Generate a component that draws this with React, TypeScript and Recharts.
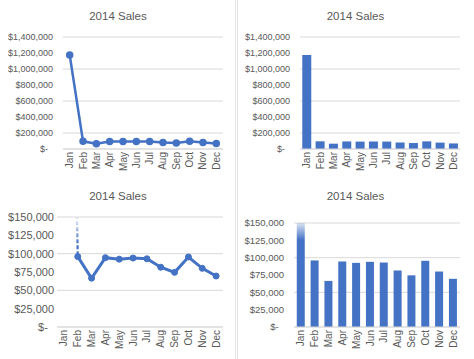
import { LineChart, Line, BarChart, Bar, Cell, XAxis, YAxis, CartesianGrid } from "recharts";

const months = ["Jan", "Feb", "Mar", "Apr", "May", "Jun", "Jul", "Aug", "Sep", "Oct", "Nov", "Dec"];
const sales = [1175000, 96000, 66500, 94500, 92500, 94000, 93000, 81500, 74500, 95500, 80000, 69500];
const fullTicks = [0, 200000, 400000, 600000, 800000, 1000000, 1200000, 1400000];
const zoomTicks = [0, 25000, 50000, 75000, 100000, 125000, 150000];
const title = "2014 Sales";

const BLUE = "#4472C4";
const GRID = "#d9d9d9";
const TEXT = "#595959";
const FONT = "'Liberation Sans', Arial, sans-serif";

const fullData = months.map((m, i) => ({ month: m, sales: sales[i] }));
// zoomed line: main series skips Jan, the Jan->Feb piece is drawn as a separate faded dash
const zoomData = months.map((m, i) => ({
  month: m,
  sales: sales[i],
  main: i === 0 ? null : sales[i],
  jump: i <= 1 ? sales[i] : null,
}));

const money = (v: number) => (v === 0 ? "$-\u00a0\u00a0" : "$" + v.toLocaleString("en-US"));

const MonthTick = ({ x, y, payload }: any) => (
  <text
    x={x}
    y={y}
    transform={`rotate(-90 ${x} ${y})`}
    textAnchor="end"
    dominantBaseline="central"
    fontSize={10}
    fill={TEXT}
    fontFamily={FONT}
  >
    {payload.value}
  </text>
);

const yTick = (size: number) => ({ fontSize: size, fill: TEXT, fontFamily: FONT });

function Panel({ left, top, width, height, children }: any) {
  return (
    <div style={{ position: "absolute", left, top, width, height }}>
      <div
        style={{
          position: "absolute",
          left: 0,
          top: 9,
          width: "100%",
          textAlign: "center",
          fontFamily: FONT,
          fontSize: 11.5,
          lineHeight: "14px",
          color: TEXT,
        }}
      >
        {title}
      </div>
      <div style={{ position: "absolute", left: 0, top: 0 }}>{children}</div>
    </div>
  );
}

export default function App() {
  return (
    <div style={{ position: "absolute", left: 0, top: 0, width: 474, height: 359, background: "#fff", overflow: "hidden" }}>
      <div style={{ position: "absolute", left: 235, top: 0, width: 1, height: 359, background: "#e6e6e6" }} />
      <div style={{ position: "absolute", left: 237, top: 0, width: 1, height: 359, background: "#e6e6e6" }} />

      {/* top left: line, full scale */}
      <Panel left={0} top={0} width={236} height={180}>
        <LineChart width={236} height={180} data={fullData} margin={{ top: 37, right: 13, bottom: 0, left: 0 }}>
          <CartesianGrid vertical={false} stroke={GRID} />
          <XAxis
            dataKey="month"
            interval={0}
            height={31}
            padding={{ left: 6.7, right: 6.7 }}
            tickSize={0}
            tickMargin={3}
            axisLine={{ stroke: GRID }}
            tick={<MonthTick />}
          />
          <YAxis
            width={63}
            domain={[0, 1400000]}
            ticks={fullTicks}
            tickFormatter={money}
            axisLine={false}
            tickLine={false}
            tickSize={0}
            tickMargin={10}
            tick={yTick(9)}
          />
          <Line dataKey="sales" stroke={BLUE} strokeWidth={2.5} dot={{ r: 2.5, fill: BLUE, stroke: BLUE }} isAnimationActive={false} />
        </LineChart>
      </Panel>

      {/* top right: bars, full scale */}
      <Panel left={237} top={0} width={237} height={180}>
        <BarChart width={237} height={180} data={fullData} barCategoryGap="17%" margin={{ top: 37, right: 14, bottom: 0, left: 0 }}>
          <CartesianGrid vertical={false} stroke={GRID} />
          <XAxis dataKey="month" interval={0} height={31} tickSize={0} tickMargin={3} axisLine={{ stroke: GRID }} tick={<MonthTick />} />
          <YAxis
            width={63}
            domain={[0, 1400000]}
            ticks={fullTicks}
            tickFormatter={money}
            axisLine={false}
            tickLine={false}
            tickSize={0}
            tickMargin={10}
            tick={yTick(9)}
          />
          <Bar dataKey="sales" fill={BLUE} isAnimationActive={false} />
        </BarChart>
      </Panel>

      {/* bottom left: line, axis capped at 150k */}
      <Panel left={0} top={180} width={236} height={179}>
        <LineChart width={236} height={179} data={zoomData} margin={{ top: 37, right: 13, bottom: 0, left: 0 }}>
          <defs>
            <linearGradient id="jumpFade" gradientUnits="userSpaceOnUse" x1="0" y1="37" x2="0" y2="64">
              <stop offset="0" stopColor={BLUE} stopOpacity={0.1} />
              <stop offset="1" stopColor={BLUE} stopOpacity={1} />
            </linearGradient>
          </defs>
          <CartesianGrid vertical={false} stroke={GRID} />
          <XAxis
            dataKey="month"
            interval={0}
            height={32}
            padding={{ left: 6.9, right: 6.9 }}
            tickSize={0}
            tickMargin={3}
            axisLine={{ stroke: GRID }}
            tick={<MonthTick />}
          />
          <YAxis
            width={57}
            domain={[0, 150000]}
            allowDataOverflow
            ticks={zoomTicks}
            tickFormatter={money}
            axisLine={false}
            tickLine={false}
            tickSize={0}
            tickMargin={3}
            tick={yTick(11)}
          />
          <Line dataKey="jump" stroke="url(#jumpFade)" strokeWidth={2.2} strokeDasharray="4 2" dot={false} isAnimationActive={false} />
          <Line dataKey="main" stroke={BLUE} strokeWidth={3} dot={{ r: 3, fill: BLUE, stroke: BLUE, strokeWidth: 1 }} isAnimationActive={false} />
        </LineChart>
      </Panel>

      {/* bottom right: bars, axis capped at 150k */}
      <Panel left={237} top={180} width={237} height={179}>
        <BarChart width={237} height={179} data={zoomData} barCategoryGap="20%" margin={{ top: 43, right: 14, bottom: 0, left: 0 }}>
          <defs>
            <linearGradient id="barFade" gradientUnits="userSpaceOnUse" x1="0" y1="40" x2="0" y2="60">
              <stop offset="0" stopColor={BLUE} stopOpacity={0.05} />
              <stop offset="1" stopColor={BLUE} stopOpacity={1} />
            </linearGradient>
          </defs>
          <CartesianGrid vertical={false} stroke={GRID} />
          <XAxis dataKey="month" interval={0} height={32} tickSize={0} tickMargin={3} axisLine={{ stroke: GRID }} tick={<MonthTick />} />
          <YAxis
            width={57}
            domain={[0, 150000]}
            allowDataOverflow
            ticks={zoomTicks}
            tickFormatter={money}
            axisLine={false}
            tickLine={false}
            tickSize={0}
            tickMargin={10}
            tick={yTick(9.5)}
          />
          <Bar dataKey="sales" fill={BLUE} isAnimationActive={false}>
            {zoomData.map((d, i) => (
              <Cell key={d.month} fill={i === 0 ? "url(#barFade)" : BLUE} />
            ))}
          </Bar>
        </BarChart>
      </Panel>
    </div>
  );
}
